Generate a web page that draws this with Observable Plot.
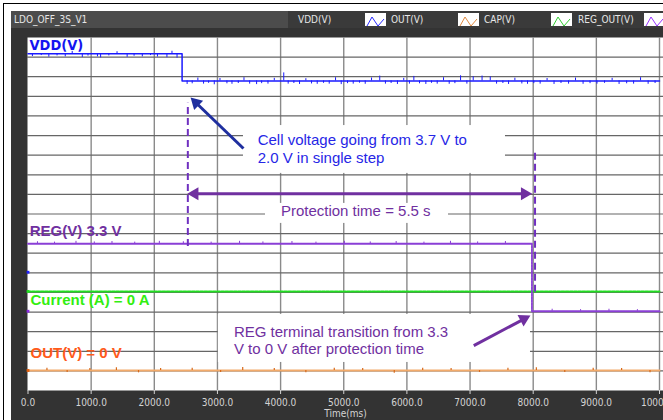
<!DOCTYPE html>
<html><head><meta charset="utf-8">
<script src="https://cdn.jsdelivr.net/npm/d3@7"></script>
<script src="https://cdn.jsdelivr.net/npm/@observablehq/plot@0.6"></script>
<style>
body{margin:0;background:#fff;}
#wrap{position:relative;width:663px;height:420px;overflow:hidden;background:#fff;font-family:"DejaVu Sans Condensed","DejaVu Sans",sans-serif;font-stretch:condensed;}
.bl{position:absolute;background:#000}
#panel{position:absolute;left:11px;top:11px;width:652px;height:409px;background:#333}
#titlebar{position:absolute;left:11px;top:11px;width:277px;height:17px;background:#4c4c4c;color:#e6e6e6;font-size:10px;line-height:17px;padding-left:3px;box-sizing:border-box}
#legendbar{position:absolute;left:288px;top:11px;width:375px;height:17px;background:#3a3a3a}
.lg{position:absolute;top:11px;height:17px;line-height:17px;font-size:10px;color:#e6e6e6;white-space:nowrap}
.ic{position:absolute;top:13px;width:21px;height:13px;background:#fff}
#chart{position:absolute;left:0;top:0}
</style></head>
<body>
<div id="wrap">
  <div class="bl" style="left:3px;top:3px;width:1px;height:417px"></div>
  <div class="bl" style="left:3px;top:3px;width:660px;height:1px"></div>
  <div id="panel"></div>
  <div id="titlebar"></div>
  <div id="legendbar"></div>
  <div id="chart"></div>
</div>
<script>
// ---------- data ----------
const chartTitle = "LDO_OFF_3S_V1";
const legendNames = ["VDD(V)", "OUT(V)", "CAP(V)", "REG_OUT(V)"];
const legendColors = ["#2a2aff", "#e08a40", "#33cc33", "#9933ff"];

const xTicks = [0, 1000, 2000, 3000, 4000, 5000, 6000, 7000, 8000, 9000, 10000];
const tickLabels = ["0.0", "1000.0", "2000.0", "3000.0", "4000.0", "5000.0", "6000.0", "7000.0", "8000.0", "9000.0", "10000.0"];
const xLabel = "Time(ms)";

// VDD (cell voltage) steps from 3.7 V to 2.0 V
const vddT = [0, 2440, 2440, 10000];
const vddV = [3.7, 3.7, 2.0, 2.0];
// REG output 3.3 V -> 0 V after protection time
const regT = [0, 7980, 7980, 10000];
const regV = [3.3, 3.3, 0, 0];
// Current 0 A, OUT 0 V
const curT = [0, 10000];
const curA = [0, 0];
const outT = [0, 10000];
const outV = [0, 0];

const vddNoise = [[70,3.52],[210,3.58],[330,3.48],[460,3.56],[590,3.5],[700,3.84],[860,3.46],[950,3.55],[1100,3.5],[1150,3.44],[1280,3.56],[1410,3.82],[1570,3.47],[1680,3.54],[1810,3.5],[1940,3.58],[2050,3.49],[2200,3.45],[2280,3.85],[2360,3.42],
 [2520,1.78],[2600,1.82],[2690,2.18],[2780,1.8],[2860,1.85],[2950,1.76],[3040,2.15],[3150,1.82],[3230,1.79],[3330,1.84],[3420,2.2],[3510,1.8],[3620,1.77],[3700,1.83],[3800,1.8],[3900,2.16],[4050,2.5],[4120,1.8],[4210,1.84],[4300,1.78],[4400,2.14],[4490,1.81],[4580,1.79],[4680,1.85],[4770,1.8],[4870,2.2],[4960,1.77],[5060,1.83],[5150,1.8],[5250,1.86],[5340,1.79],[5440,2.18],[5570,2.3],[5660,1.8],[5750,1.84],[5850,1.78],[5950,2.16],[6040,1.8],[6110,2.28],[6200,1.82],[6300,1.78],[6390,1.85],[6480,1.8],[6580,2.2],[6670,1.79],[6760,1.83],[6850,2.32],[6950,1.8],[7050,2.26],[7190,2.3],[7320,2.25],[7420,1.8],[7520,1.84],[7610,1.78],[7710,2.17],[7820,1.81],[7910,1.79],[8010,1.83],[8110,1.8],[8220,2.15],[8330,1.78],[8440,1.84],[8560,1.8],[8670,2.18],[8790,1.79],[8900,1.83],[9010,1.8],[9130,1.85],[9250,2.16],[9360,1.78],[9480,1.82],[9590,1.8],[9700,2.2],[9820,1.79],[9930,1.84]];
const regNoise = [[150,3.4],[420,3.38],[760,3.42],[1050,3.39],[1330,3.41],[1690,3.38],[2080,3.42],[2460,3.4],[2900,3.38],[3350,3.42],[3720,3.39],[4180,3.41],[4560,3.38],[5010,3.42],[5420,3.39],[5830,3.41],[6270,3.38],[6690,3.42],[7120,3.39],[7560,3.41],[8300,0.1],[8750,0.08],[9200,0.1],[9650,0.08]];
const outNoise = [[300,0.12],[620,-0.1],[980,0.1],[1400,0.14],[1750,-0.12],[2100,0.1],[2600,0.12],[3050,-0.1],[3400,0.15],[3900,0.1],[4400,-0.12],[4850,0.12],[5300,0.1],[5800,-0.14],[6250,0.12],[6700,0.1],[7150,-0.1],[7600,0.12],[8050,0.14],[8500,-0.1],[8950,0.12],[9400,0.1],[9850,-0.12]];

// channel placement on the screen grid (divisions)
const ch = {
  vdd: {zero: 14.15, perUnit: 0.818},
  reg: {zero: 4.04, perUnit: 1.043},
  cur: {zero: 5.05, perUnit: 1.0},
  out: {zero: 1.02, perUnit: 1.0}
};
const groundMarkers = [{d: 6.03, c: "#2020ff"}, {d: 5.05, c: "#22dd22"}, {d: 4.04, c: "#8a2be2"}, {d: 1.02, c: "#e06010"}];

// ---------- header ----------
document.getElementById("titlebar").textContent = chartTitle;
const wrap = document.getElementById("wrap");
const lgTextX = [298, 391, 484, 578], lgIconX = [365, 458, 551, 644];
legendNames.forEach((n, i) => {
  const t = document.createElement("div");
  t.className = "lg"; t.style.left = lgTextX[i] + "px"; t.textContent = n;
  wrap.appendChild(t);
  const ic = document.createElement("div");
  ic.className = "ic"; ic.style.left = lgIconX[i] + "px";
  ic.innerHTML = `<svg width="21" height="13"><polyline points="2,11 7,2 13,11 19,4" fill="none" stroke="${legendColors[i]}" stroke-width="1"/></svg>`;
  wrap.appendChild(ic);
});

// ---------- geometry helpers ----------
const X0 = 27.5, X1 = 659, Y0 = 390, YT = 37, NDIV = 18;
const PXMS = (X1 - X0) / 10000, PXDIV = (Y0 - YT) / NDIV;
const toPx = (t, d) => [X0 + t * PXMS, Y0 - d * PXDIV];
const fromPx = (x, y) => [(x - X0) / PXMS, (Y0 - y) / PXDIV];
const lvl = (c, v) => c.zero + v * c.perUnit;
const levelAt = (ts, vs, t) => { let v = vs[0]; for (let i = 0; i < ts.length; i++) if (ts[i] <= t) v = vs[i]; return v; };
const series = (ts, vs, c) => ts.map((t, i) => ({t, y: lvl(c, vs[i])}));

// annotations (time ms, divisions)
const dashed = [{t: 2531, a: 7.34, b: 14.65}, {t: 8029, a: 5.01, b: 12.15}];
const boxes = [
  {x1: 3412, x2: 7561, y1: 11.07, y2: 13.51},
  {x1: 3761, x2: 6659, y1: 8.52, y2: 9.54},
  {x1: 3015, x2: 7957, y1: 1.43, y2: 3.88}
];
const arrowDefs = [
  {from: [3412, 12.34], to: [2574, 14.94], c: "#1f2f9f", both: false},
  {from: [2521, 10.03], to: [7984, 10.03], c: "#7030a0", both: true},
  {from: [7059, 2.29], to: [7957, 3.82], c: "#7030a0", both: false}
];
const HEAD_R = 4.8, HEAD_BACK = 7.5;
const shafts = [], heads = [];
for (const a of arrowDefs) {
  let [x1, y1] = toPx(...a.from), [x2, y2] = toPx(...a.to);
  const L = Math.hypot(x2 - x1, y2 - y1), ux = (x2 - x1) / L, uy = (y2 - y1) / L;
  const ang = Math.atan2(uy, ux) * 180 / Math.PI;
  const hc2 = [x2 - ux * HEAD_BACK, y2 - uy * HEAD_BACK];
  heads.push({p: fromPx(...hc2), r: ang + 90, c: a.c});
  let s1 = [x1, y1];
  if (a.both) {
    const hc1 = [x1 + ux * HEAD_BACK, y1 + uy * HEAD_BACK];
    heads.push({p: fromPx(...hc1), r: ang - 90, c: a.c});
    s1 = hc1;
  }
  shafts.push({p1: fromPx(...s1), p2: fromPx(...hc2), c: a.c});
}

const labels = [
  {t: 24, d: 17.6, s: "VDD(V)", c: "#1414f0", f: "DejaVu Sans", z: 14.5},
  {t: 28, d: 8.12, s: "REG(V) 3.3 V", c: "#7030a0", f: "Liberation Sans", z: 15},
  {t: 40, d: 4.63, s: "Current (A) = 0 A", c: "#33ee11", f: "Liberation Sans", z: 15},
  {t: 40, d: 1.91, s: "OUT(V) = 0 V", c: "#ff5a1a", f: "Liberation Sans", z: 15}
];
const notes = [
  {t: 3637, d: 12.75, s: "Cell voltage going from 3.7 V to", c: "#2626e6", a: "start"},
  {t: 3637, d: 11.86, s: "2.0 V in single step", c: "#2626e6", a: "start"},
  {t: 5190, d: 9.14, s: "Protection time = 5.5 s", c: "#7030a0", a: "middle"},
  {t: 3261, d: 2.95, s: "REG terminal transition from 3.3", c: "#7030a0", a: "start"},
  {t: 3261, d: 2.11, s: "V to 0 V after protection time", c: "#7030a0", a: "start"}
];
const hGrid = d3.range(1, NDIV);

const chart = Plot.plot({
  width: 663, height: 420,
  marginTop: YT, marginBottom: 420 - Y0, marginLeft: 27, marginRight: 0,
  style: {background: "transparent", fontFamily: "'DejaVu Sans Condensed','DejaVu Sans',sans-serif"},
  x: {domain: [0, 10000], range: [X0, X1]},
  y: {domain: [0, NDIV], range: [Y0, YT], axis: null},
  marks: [
    Plot.frame({fill: "white", stroke: null}),
    Plot.ruleX(xTicks.slice(1), {stroke: "#8a8a8a", strokeWidth: 1.4}),
    Plot.ruleY(hGrid, {stroke: "#666", strokeWidth: 1.2}),
    Plot.rect(boxes, {x1: "x1", x2: "x2", y1: "y1", y2: "y2", fill: "white"}),
    // OUT trace
    Plot.line(series(outT, outV, ch.out), {x: "t", y: "y", stroke: "#f2aa6a", strokeWidth: 2}),
    Plot.ruleX(outNoise, {x: d => d[0], y1: lvl(ch.out, 0), y2: d => lvl(ch.out, d[1]), stroke: "#d86a1a", strokeWidth: 1.2}),
    // Current trace
    Plot.line(series(curT, curA, ch.cur), {x: "t", y: "y", stroke: "#22dd22", strokeWidth: 2, strokeDasharray: "3,1.2"}),
    // REG trace
    Plot.line(series(regT, regV, ch.reg), {x: "t", y: "y", stroke: "#8a3fd6", strokeWidth: 1.8, strokeDasharray: "2.5,0.7", curve: "linear"}),
    Plot.ruleX(regNoise, {x: d => d[0], y1: d => lvl(ch.reg, levelAt(regT, regV, d[0])), y2: d => lvl(ch.reg, d[1]), stroke: "#8a3fd6", strokeWidth: 1}),
    // VDD trace
    Plot.line(series(vddT, vddV, ch.vdd), {x: "t", y: "y", stroke: "#1a1aff", strokeWidth: 1.5}),
    Plot.ruleX(vddNoise, {x: d => d[0], y1: d => lvl(ch.vdd, levelAt(vddT, vddV, d[0])), y2: d => lvl(ch.vdd, d[1]), stroke: "#1a1aff", strokeWidth: 1}),
    // channel ground markers
    Plot.dot(groundMarkers, {x: 0, y: "d", fill: "c", symbol: "square", r: 1.6, stroke: null}),
    // dashed guide lines
    Plot.ruleX(dashed, {x: "t", y1: "a", y2: "b", stroke: "#7030c0", strokeWidth: 2, strokeDasharray: "7,4"}),
    // arrows
    Plot.link(shafts, {x1: d => d.p1[0], y1: d => d.p1[1], x2: d => d.p2[0], y2: d => d.p2[1], stroke: "c", strokeWidth: 3}),
    Plot.dot(heads, {x: d => d.p[0], y: d => d.p[1], rotate: "r", symbol: "triangle", r: HEAD_R, fill: "c", stroke: null}),
    // channel labels
    ...labels.map(l => Plot.text([l], {x: "t", y: "d", text: "s", fill: l.c, fontFamily: l.f, fontSize: l.z, fontWeight: "bold", textAnchor: "start", clip: true})),
    // annotation text
    Plot.text(notes, {x: "t", y: "d", text: "s", fill: "c", textAnchor: "start", fontFamily: "Liberation Sans", fontSize: 15, filter: d => d.a === "start"}),
    Plot.text(notes, {x: "t", y: "d", text: "s", fill: "c", textAnchor: "middle", fontFamily: "Liberation Sans", fontSize: 15, filter: d => d.a === "middle"}),
    // x axis
    Plot.axisX({ticks: xTicks, tickFormat: d => tickLabels[xTicks.indexOf(d)], tickSize: 4, tickPadding: 4, color: "#d4d4d4", fontSize: 10, label: null}),
    Plot.text([xLabel], {frameAnchor: "bottom", lineAnchor: "middle", dy: 23, text: d => d, fill: "#d4d4d4", fontSize: 10})
  ]
});
document.getElementById("chart").appendChild(chart);
</script>
</body></html>
